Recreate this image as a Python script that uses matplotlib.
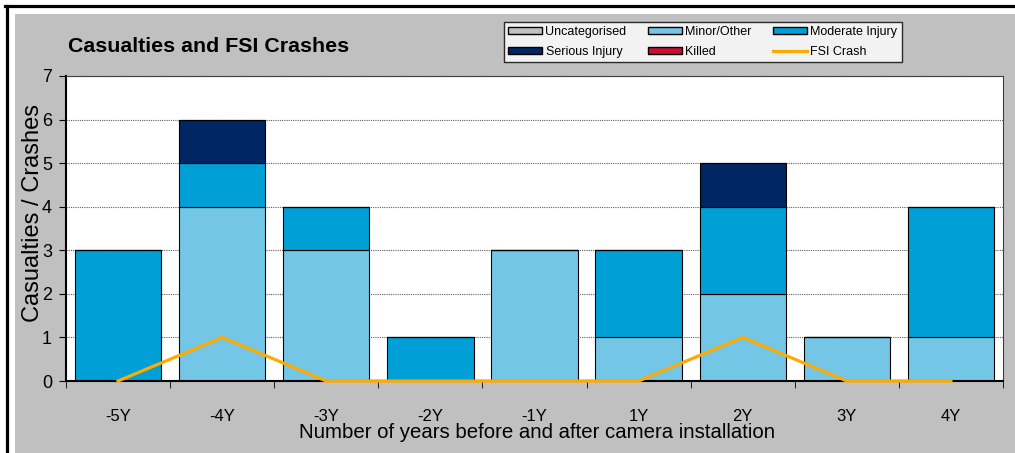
import matplotlib.pyplot as plt
import numpy as np
from matplotlib.patches import Rectangle, Patch
from matplotlib.lines import Line2D

plt.rcParams['font.family'] = ['Liberation Sans', 'DejaVu Sans']

years = ["-5Y", "-4Y", "-3Y", "-2Y", "-1Y", "1Y", "2Y", "3Y", "4Y"]
uncategorised = [0, 0, 0, 0, 0, 0, 0, 0, 0]
minor = [0, 4, 3, 0, 3, 1, 2, 1, 1]
moderate = [3, 1, 1, 1, 0, 2, 2, 0, 3]
serious = [0, 1, 0, 0, 0, 0, 1, 0, 0]
killed = [0, 0, 0, 0, 0, 0, 0, 0, 0]
fsi_crash = [0, 1, 0, 0, 0, 0, 1, 0, 0]

series = [
    ("Uncategorised", uncategorised, "#C0C0C0"),
    ("Minor/Other", minor, "#73C6E6"),
    ("Moderate Injury", moderate, "#00A0D6"),
    ("Serious Injury", serious, "#002663"),
    ("Killed", killed, "#C8102E"),
]
fsi_color = "#FFAA00"
grey = "#C0C0C0"

fig = plt.figure(figsize=(10.15, 4.53), dpi=100)
fig.patch.set_facecolor("white")

# grey panel and black frame
fig.add_artist(Rectangle((15 / 1015, 0), 1, 1 - 14 / 453, transform=fig.transFigure,
                         facecolor=grey, edgecolor="none", zorder=-10))
fig.add_artist(Line2D([6.5 / 1015, 6.5 / 1015], [0, 1 - 5.5 / 453], transform=fig.transFigure,
                      color="black", lw=2.3, zorder=-5))
fig.add_artist(Line2D([6.5 / 1015 - 0.0015, 1], [1 - 5.5 / 453, 1 - 5.5 / 453], transform=fig.transFigure,
                      color="black", lw=2.3, zorder=-5))

ax = fig.add_axes([66 / 1015, 1 - 381 / 453, (1003 - 66) / 1015, (381 - 76) / 453])
ax.set_facecolor("white")

x = np.arange(len(years))
bottom = np.zeros(len(years))
for name, vals, col in series:
    vals = np.array(vals, dtype=float)
    ax.bar(x, vals, 0.83, bottom=bottom, color=col, edgecolor="black", linewidth=0.8, zorder=2)
    bottom += vals

ax.plot(x, fsi_crash, color=fsi_color, lw=2.3, zorder=4, clip_on=False)

ax.set_xlim(-0.5, len(years) - 0.5)
ax.set_ylim(0, 7)
ax.set_yticks(range(0, 8))
ax.yaxis.grid(True, linestyle=(0, (1, 1)), color="#606060", lw=0.8, zorder=0)
ax.set_axisbelow(True)

ax.set_xticks(x)
ax.set_xticklabels(years, fontsize=12)
ax.set_xticks(np.arange(-0.5, len(years)), minor=True)
ax.tick_params(axis="x", which="major", length=0, pad=20)
ax.tick_params(axis="x", which="minor", length=5, direction="out", color="black")
ax.tick_params(axis="y", labelsize=13, length=5, direction="out", pad=5)

for s in ax.spines.values():
    s.set_color("#404040")
    s.set_linewidth(0.8)
ax.spines["left"].set_color("black")
ax.spines["left"].set_linewidth(1.5)
ax.spines["bottom"].set_color("black")
ax.spines["bottom"].set_linewidth(1.5)

fig.text(33 / 1015, 1 - 213 / 453, "Casualties / Crashes", fontsize=17, rotation=90,
         ha="center", va="center")
fig.text(537 / 1015, 1 - 433 / 453, "Number of years before and after camera installation",
         fontsize=14.7, ha="center", va="center")
fig.text(68 / 1015, 1 - 47 / 453, "Casualties and FSI Crashes", fontsize=15.4,
         fontweight="bold", ha="left", va="center")

handles = [Patch(facecolor=c, edgecolor="black", lw=1) for _, _, c in series]
labels = [n for n, _, _ in series]
handles.append(Line2D([], [], color=fsi_color, lw=2.3))
labels.append("FSI Crash")
order = [0, 3, 1, 4, 2, 5]
leg = fig.legend([handles[i] for i in order], [labels[i] for i in order],
                 ncol=3, loc="upper left", bbox_to_anchor=(504 / 1015, 1 - 22 / 453),
                 bbox_transform=fig.transFigure, fontsize=9, frameon=True,
                 fancybox=False, edgecolor="black", handlelength=2.7, handleheight=0.56,
                 handletextpad=0.3, columnspacing=1.7, labelspacing=0.62,
                 borderpad=0.32, borderaxespad=0)
leg.get_frame().set_linewidth(1.0)

fig.savefig("out.png", dpi=100, facecolor=fig.get_facecolor())
